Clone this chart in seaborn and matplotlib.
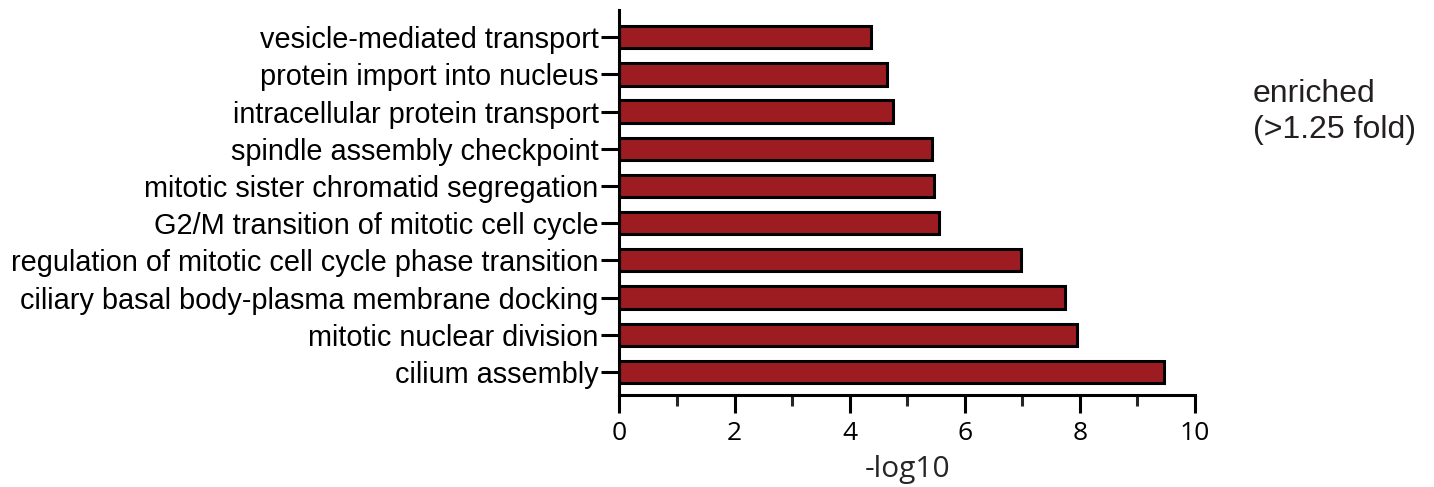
import matplotlib
matplotlib.use("Agg")
import matplotlib.pyplot as plt
from matplotlib.ticker import MultipleLocator
import seaborn as sns
import pandas as pd

# GO biological process terms and their enrichment (-log10 p)
terms = [
    "vesicle-mediated transport",
    "protein import into nucleus",
    "intracellular protein transport",
    "spindle assembly checkpoint",
    "mitotic sister chromatid segregation",
    "G2/M transition of mitotic cell cycle",
    "regulation of mitotic cell cycle phase transition",
    "ciliary basal body-plasma membrane docking",
    "mitotic nuclear division",
    "cilium assembly",
]
neg_log10 = [4.37, 4.65, 4.75, 5.43, 5.47, 5.55, 6.98, 7.74, 7.95, 9.46]
x_ticks = [0, 2, 4, 6, 8, 10]
legend_lines = ["enriched", "(>1.25 fold)"]

df = pd.DataFrame({"term": terms, "score": neg_log10})

sns.set_style("ticks")
plt.rcParams["font.family"] = ["Liberation Sans", "DejaVu Sans"]

fig = plt.figure(figsize=(14.34, 4.87), dpi=100)
ax = fig.add_axes([0.432, 0.189, 0.4013, 0.790])

sns.barplot(data=df, x="score", y="term", orient="h", color="#9C1C21",
            saturation=1, width=0.6, edgecolor="black", linewidth=2.2, ax=ax)

ax.set_xlim(0, 10)
ax.set_ylim(9.62, -0.726)
ax.set_xticks(x_ticks)
ax.xaxis.set_minor_locator(MultipleLocator(1))
ax.set_xticklabels([str(t) for t in x_ticks], family="Open Sans", fontsize=19)
ax.set_xlabel("-log10", family="Open Sans", fontsize=21.5, va="baseline")
ax.xaxis.set_label_coords(0.5, -0.213)
ax.set_ylabel("")

for s in ["top", "right"]:
    ax.spines[s].set_visible(False)
for s in ["left", "bottom"]:
    ax.spines[s].set_linewidth(2.2)
    ax.spines[s].set_color("black")

ax.tick_params(axis="y", length=13, width=2.2, pad=2, labelsize=20.8, colors="black")
ax.tick_params(axis="x", which="major", length=13, width=2.2, pad=6, colors="black")
ax.tick_params(axis="x", which="minor", length=8, width=2.2)

fig.text(0.8738, 0.791, legend_lines[0], fontsize=23, color="#231f20", va="baseline")
fig.text(0.8738, 0.717, legend_lines[1], fontsize=23, color="#231f20", va="baseline")

fig.savefig("out.png", dpi=100)
